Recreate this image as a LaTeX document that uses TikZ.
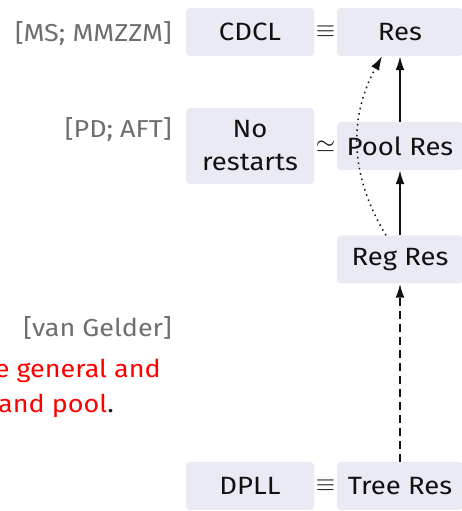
\documentclass[tikz,border=0pt]{standalone}
\usepackage{fontspec}
\setmainfont[FakeStretch=1.1]{Fira Sans}
\usetikzlibrary{calc,positioning,arrows.meta}
\usepackage{xcolor}
\definecolor{simBox}{HTML}{EAEAF5}
\definecolor{simCite}{HTML}{6E6E6E}
\definecolor{simInk}{HTML}{111111}
\definecolor{simAlert}{HTML}{FF0000}
\tikzset{
  sysbox/.style   = {fill=simBox, rounded corners=4pt, inner sep=0pt,
                     minimum height=48pt, align=center, text=simInk,
                     font=\fontsize{25}{33}\selectfont},
  cite/.style     = {anchor=east, inner sep=0pt, text=simCite,
                     font=\fontsize{24.5}{30}\selectfont},
  alert/.style    = {anchor=base east, inner sep=0pt, text=simAlert,
                     font=\fontsize{24.5}{30}\selectfont},
  rel/.style      = {inner sep=0pt, text=simInk, font=\fontsize{29}{34}\selectfont},
  sim/.style      = {line width=2pt, color=simInk,
                     -{Latex[length=14pt,width=9pt]}},
}

\begin{document}
\begin{tikzpicture}[x=1pt, y=1pt]
\useasboundingbox (0,0) rectangle (462,511);

% columns and rows
\def\xL{250}   % solver column
\def\xR{400}   % proof system column
\def\wL{128}
\def\wR{126}

% --- solvers (left) ---
\node[sysbox, minimum width=\wL] (cdcl) at (\xL,479) {CDCL};
\node[sysbox, minimum width=\wL, minimum height=76pt] (norest) at (\xL,365) {No\\restarts};
\node[sysbox, minimum width=\wL] (dpll) at (\xL,25) {DPLL};

% --- proof systems (right) ---
\node[sysbox, minimum width=\wR] (res)  at (\xR,479) {Res};
\node[sysbox, minimum width=\wR] (pool) at (\xR,365) {Pool Res};
\node[sysbox, minimum width=\wR] (reg)  at (\xR,251.5) {Reg Res};
\node[sysbox, minimum width=\wR] (tree) at (\xR,25) {Tree Res};

% equivalences between the columns
\node[rel] (eqtop) at ($(cdcl.east)!0.5!(res.west)$) {$\equiv$};
\node[rel] (eqmid) at ($(norest.east)!0.5!(pool.west)+(0,-1)$) {$\simeq$};
\node[rel] (eqbot) at ($(dpll.east)!0.5!(tree.west)$) {$\equiv$};

% references
\node[cite] (refms)  at (172,477) {[MS; MMZZM]};
\node[cite] (refpd)  at (172,381) {[PD; AFT]};
\node[cite] (refvg)  at (172,183) {[van Gelder]};

% remark
\node[alert] (rmkA) at (161,133) {e general and};
\node[alert] (rmkB) at (114,98) {and pool\textcolor{simInk}{.}};

% --- simulations ---
\draw[sim] (pool.north) -- (res.south);
\draw[sim] (reg.north) -- (pool.south);
\draw[sim, dash pattern=on 8pt off 5pt] (tree.north) -- (reg.south);
\draw[sim, line width=1.5pt, dash pattern=on 1.5pt off 4pt]
  ([xshift=-14pt]reg.north) to[bend left=30] ([xshift=-18pt]res.south);

\end{tikzpicture}
\end{document}
